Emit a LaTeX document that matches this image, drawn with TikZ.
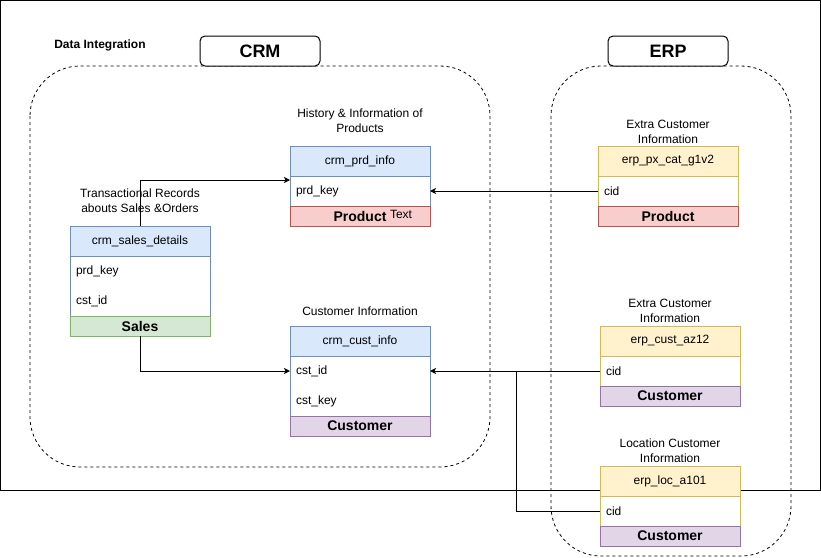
\documentclass[tikz,border=0pt]{standalone}
\usepackage{fontspec}
\setmainfont{Liberation Sans}
\usetikzlibrary{positioning,arrows.meta}

\definecolor{bluefill}{HTML}{DAE8FC}
\definecolor{blueline}{HTML}{6C8EBF}
\definecolor{yellowfill}{HTML}{FFF2CC}
\definecolor{yellowline}{HTML}{D6B656}
\definecolor{redfill}{HTML}{F8CECC}
\definecolor{redline}{HTML}{B85450}
\definecolor{greenfill}{HTML}{D5E8D4}
\definecolor{greenline}{HTML}{82B366}
\definecolor{purplefill}{HTML}{E1D5E7}
\definecolor{purpleline}{HTML}{9673A6}

\tikzset{
  cell/.style={minimum width=140pt, minimum height=30pt, inner sep=0pt, outer sep=0pt, font=\fontsize{12}{14}\selectfont},
  hdr/.style={cell, draw=#1line, fill=#1fill},
  field/.style={cell, text width=128pt, align=left},
  foot/.style={cell, minimum height=20pt, draw=#1line, fill=#1fill, font=\bfseries\fontsize{14}{16}\selectfont},
  ttl/.style={align=center, inner sep=0pt, font=\fontsize{12}{15}\selectfont},
  group/.style={draw, line width=0.8pt, dash pattern=on 3pt off 3pt, rounded corners=50pt},
  tag/.style={draw, fill=white, rounded corners=5pt, minimum width=120pt, minimum height=30pt, font=\bfseries\fontsize{18}{20}\selectfont},
  arr/.style={-{Stealth[length=6pt,width=6pt,inset=1.5pt]}}
}

\begin{document}
\begin{tikzpicture}[x=1pt, y=-1pt, line width=1pt]
  \useasboundingbox (0,0) rectangle (821,557);
  \draw (0.5,0.5) rectangle (820,490);
  \node[inner sep=0pt, font=\bfseries\fontsize{12}{14}\selectfont] (title) at (100,45) {Data Integration};

  % groups
  \draw[group] (30,66) rectangle (490,467);
  \draw[group] (551,66) rectangle (791,556);
  \node[tag] (crm) at (260,51) {CRM};
  \node[tag] (erp) at (668,51) {ERP};

  % crm tables
  \node[ttl] (prdt) at (360,120.5) {History \& Information of\\Products};
  \node[hdr=blue] (prdh) at (360,161) {crm\_prd\_info};
  \node[field, below=0pt of prdh] (prdkey) {prd\_key};
  \draw[draw=blueline] (prdh.south west) rectangle (prdkey.south east);
  \node[foot=red, below=0pt of prdkey] (prdf) {Product};
  \node[inner sep=0pt, font=\fontsize{12}{14}\selectfont] (prdtxt) at (401,214) {Text};

  \node[ttl] (salest) at (140,200.5) {Transactional Records\\abouts Sales \&Orders};
  \node[hdr=blue] (salesh) at (140,241) {crm\_sales\_details};
  \node[field, below=0pt of salesh] (salesprd) {prd\_key};
  \node[field, below=0pt of salesprd] (salescst) {cst\_id};
  \draw[draw=blueline] (salesh.south west) rectangle (salescst.south east);
  \node[foot=green, below=0pt of salescst] (salesf) {Sales};

  \node[ttl] (custt) at (360,311) {Customer Information};
  \node[hdr=blue] (custh) at (360,341) {crm\_cust\_info};
  \node[field, below=0pt of custh] (custid) {cst\_id};
  \node[field, below=0pt of custid] (custkey) {cst\_key};
  \draw[draw=blueline] (custh.south west) rectangle (custkey.south east);
  \node[foot=purple, below=0pt of custkey] (custf) {Customer};

  % erp tables
  \node[ttl] (pxt) at (668,131.5) {Extra Customer\\Information};
  \node[hdr=yellow] (pxh) at (668,161) {erp\_px\_cat\_g1v2};
  \node[field, below=0pt of pxh] (pxcid) {cid};
  \draw[draw=yellowline] (pxh.south west) rectangle (pxcid.south east);
  \node[foot=red, below=0pt of pxcid] (pxf) {Product};

  \node[ttl] (azt) at (670,310.5) {Extra Customer\\Information};
  \node[hdr=yellow] (azh) at (670,341) {erp\_cust\_az12};
  \node[field, below=0pt of azh] (azcid) {cid};
  \draw[draw=yellowline] (azh.south west) rectangle (azcid.south east);
  \node[foot=purple, below=0pt of azcid] (azf) {Customer};

  \node[ttl] (loct) at (670,450.5) {Location Customer\\Information};
  \node[hdr=yellow] (loch) at (670,481) {erp\_loc\_a101};
  \node[field, below=0pt of loch] (loccid) {cid};
  \draw[draw=yellowline] (loch.south west) rectangle (loccid.south east);
  \node[foot=purple, below=0pt of loccid] (locf) {Customer};

  % links
  \draw[arr] (salesh.north) |- ([yshift=11pt]prdkey.west);
  \draw[arr] (pxcid.west) -- (prdkey.east);
  \draw[arr] (salesf.south) |- (custid.west);
  \draw[arr] (azcid.west) -- (custid.east);
  \coordinate (join) at (516,371);
  \draw (loccid.west) -| (join);
\end{tikzpicture}
\end{document}
